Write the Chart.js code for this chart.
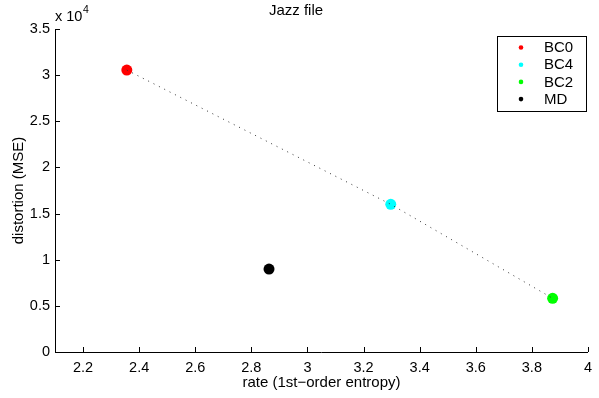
<!DOCTYPE html>
<html>
<head>
<meta charset="utf-8">
<script src="https://cdn.jsdelivr.net/npm/chart.js@4/dist/chart.umd.min.js"></script>
<style>
  body { margin: 0; background: #fff; }
  #wrap { width: 599px; height: 398px; }
</style>
</head>
<body>
<div id="wrap"><canvas id="chart" width="599" height="398"></canvas></div>
<script>
const seriesNames = ['BC0', 'BC4', 'BC2', 'MD'];
const rates = [2.356, 3.297, 3.874, 2.863];
const distortions = [30550, 16000, 5820, 8990];
// the dotted line joins the BC points in this order
const lineOrder = ['BC0', 'BC4', 'BC2'];
const xTicks = [2.2, 2.4, 2.6, 2.8, 3, 3.2, 3.4, 3.6, 3.8, 4];
const yTicks = [0, 5000, 10000, 15000, 20000, 25000, 30000, 35000];

const pointColors = ['#ff0000', '#00ffff', '#00ff00', '#000000'];
const FONT = 'Liberation Sans, Arial, Helvetica, sans-serif';
const tickFont = { family: FONT, size: 14.5, weight: 'normal' };
const labelFont = { family: FONT, size: 15, weight: 'normal' };

// MATLAB style ticks pointing into the axes, plus the exponent label and legend box
const matlabAxes = {
  id: 'matlabAxes',
  afterDraw(chart) {
    const ctx = chart.ctx;
    const x = chart.scales.x, y = chart.scales.y;
    const area = chart.chartArea;
    ctx.save();
    ctx.strokeStyle = '#000';
    ctx.lineWidth = 1;
    ctx.beginPath();
    xTicks.forEach(v => {
      const px = Math.round(x.getPixelForValue(v)) + 0.5;
      ctx.moveTo(px, area.bottom);
      ctx.lineTo(px, area.bottom - 5);
    });
    yTicks.forEach(v => {
      const py = Math.round(y.getPixelForValue(v)) + 0.5;
      ctx.moveTo(area.left, py);
      ctx.lineTo(area.left + 5, py);
    });
    ctx.stroke();

    // exponent label
    ctx.fillStyle = '#000';
    ctx.textBaseline = 'alphabetic';
    ctx.textAlign = 'left';
    ctx.font = '14.5px ' + FONT;
    ctx.fillText('x 10', area.left, 21);
    const w = ctx.measureText('x 10').width;
    ctx.font = '10.5px ' + FONT;
    ctx.fillText('4', area.left + w + 0.5, 13);

    // legend
    const lx = 497, ly = 36, lw = 89, lh = 75;
    ctx.fillStyle = '#fff';
    ctx.fillRect(lx, ly, lw, lh);
    ctx.strokeRect(lx + 0.5, ly + 0.5, lw, lh);
    ctx.font = '15px ' + FONT;
    ctx.textBaseline = 'middle';
    seriesNames.forEach((name, i) => {
      const cy = 47.5 + i * 17.2;
      ctx.fillStyle = pointColors[i];
      ctx.beginPath();
      ctx.arc(521, cy, 2.3, 0, Math.PI * 2);
      ctx.fill();
      ctx.fillStyle = '#000';
      ctx.fillText(name, 544, cy + 0.5);
    });
    ctx.restore();
  }
};

const pointSets = seriesNames.map((name, i) => ({
  type: 'scatter',
  label: name,
  data: [{ x: rates[i], y: distortions[i] }],
  backgroundColor: pointColors[i],
  borderWidth: 0,
  pointRadius: 5.5,
  order: 1
}));

const lineSet = {
  type: 'line',
  label: 'path',
  data: lineOrder.map(n => {
    const i = seriesNames.indexOf(n);
    return { x: rates[i], y: distortions[i] };
  }),
  borderColor: '#333',
  borderWidth: 1,
  borderDash: [1, 5],
  pointRadius: 0,
  fill: false,
  tension: 0,
  order: 0
};

new Chart(document.getElementById('chart'), {
  data: { datasets: [...pointSets, lineSet] },
  options: {
    responsive: false,
    animation: false,
    layout: { padding: { left: 0, right: 7, top: 0, bottom: 0 } },
    plugins: {
      legend: { display: false },
      tooltip: { enabled: false },
      title: {
        display: true,
        text: 'Jazz file',
        color: '#000',
        font: labelFont,
        padding: { top: 2, bottom: 9 }
      }
    },
    scales: {
      x: {
        type: 'linear',
        min: 2.1,
        max: 4,
        afterBuildTicks: s => { s.ticks = xTicks.map(v => ({ value: v })); },
        afterFit: s => { s.height = 46; },
        grid: { display: true, drawOnChartArea: false, drawTicks: false },
        border: { color: '#000', width: 1 },
        ticks: { color: '#000', font: tickFont, padding: 7, maxRotation: 0, callback: v => String(v) },
        title: { display: true, text: 'rate (1st\u2212order entropy)', color: '#000', font: labelFont, padding: { top: 0, bottom: 6 } }
      },
      y: {
        type: 'linear',
        min: 0,
        max: 35000,
        afterBuildTicks: s => { s.ticks = yTicks.map(v => ({ value: v })); },
        afterFit: s => { s.width = 55; },
        grid: { display: true, drawOnChartArea: false, drawTicks: false },
        border: { color: '#000', width: 1 },
        ticks: { color: '#000', font: tickFont, padding: 5, callback: v => String(v / 10000) },
        title: { display: true, text: 'distortion (MSE)', color: '#000', font: labelFont, padding: { top: 10, bottom: 0 } }
      }
    }
  },
  plugins: [matlabAxes]
});
</script>
</body>
</html>
